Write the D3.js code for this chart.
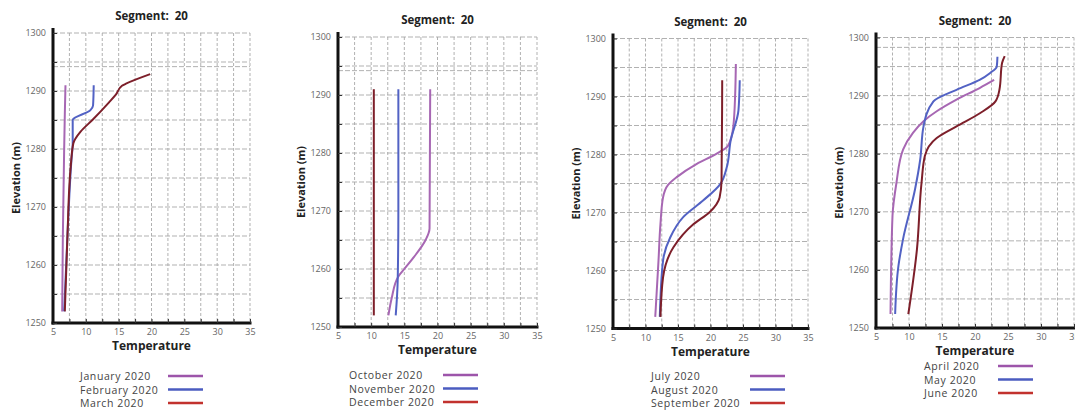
<!DOCTYPE html>
<html>
<head>
<meta charset="utf-8">
<script src="https://cdn.jsdelivr.net/npm/d3@7"></script>
<style>
  body { margin: 0; background: #fff; }
  text { font-family: "Open Sans", "DejaVu Sans", sans-serif; }
</style>
</head>
<body>
<svg width="1075" height="411"></svg>
<script>
// temperature (C) / elevation (m) profiles
var xTicks = [5, 10, 15, 20, 25, 30, 35];
var yTicks = [1250, 1260, 1270, 1280, 1290, 1300];
var title = "Segment:  20";

// panel 1: Jan-Mar
var months1 = ["January 2020", "February 2020", "March 2020"];
var jan = [[6.4,1252],[6.5,1265],[6.7,1280],[6.8,1286],[6.9,1291]];
var feb = [[6.7,1252],[7.2,1265],[7.8,1278],[8.0,1281],[8.0,1285],[10.7,1286.7],[11.1,1287.5],[11.2,1291]];
var mar = [[6.8,1252],[7.2,1265],[7.7,1277],[8.1,1281],[9.2,1283],[11,1285],[13.5,1288],[14.6,1289.4],[15.5,1290.9],[16.2,1291.3],[19.8,1292.9]];

// panel 2: Oct-Dec
var months2 = ["October 2020", "November 2020", "December 2020"];
var oct = [[12.6,1252],[13.1,1255],[14.1,1258.7],[15,1260],[16.4,1262],[18.2,1265],[18.8,1267],[18.9,1291]];
var nov = [[13.7,1252],[14.0,1258],[14.1,1270],[14.1,1291]];
var dec = [[10.4,1252],[10.4,1291]];

// panel 3: Jul-Sep
var months3 = ["July 2020", "August 2020", "September 2020"];
var jul = [[11.5,1252],[12.0,1261.7],[12.3,1268],[12.7,1272.6],[13.5,1274.8],[14.8,1276.1],[17.9,1278.4],[20.9,1280.1],[22.7,1281.5],[23.5,1284.7],[23.8,1290.5],[23.9,1295.6]];
var aug = [[12.2,1252],[12.7,1261.7],[13.8,1265.7],[15.8,1269.2],[18.9,1272.1],[21.5,1274.9],[22.5,1277.8],[23.1,1282.4],[24.3,1287.6],[24.5,1292.8]];
var sep = [[12.3,1252],[12.7,1258.8],[14.3,1264],[17.4,1268],[19.9,1270.1],[21.4,1272.6],[21.7,1275.5],[21.8,1292.8]];

// panel 4: Apr-Jun
var months4 = ["April 2020", "May 2020", "June 2020"];
var apr = [[7.2,1252.4],[7.5,1269.3],[8.1,1275],[9.1,1280.7],[10.6,1283.6],[12.2,1285.6],[14.2,1287.3],[17.2,1289.3],[20.7,1291.3],[22.9,1292.7]];
var may = [[7.9,1252.4],[8.4,1260.7],[9.1,1265.3],[10.9,1273.8],[11.7,1279],[12.2,1284.7],[13.7,1289],[17.2,1291],[20.7,1292.7],[22.3,1293.9],[23.3,1295],[23.4,1296.7]];
var jun = [[9.9,1252.4],[11.2,1263.5],[11.9,1275],[12.4,1279.6],[14.2,1282.7],[17.2,1284.7],[20.8,1287],[23.1,1289],[23.7,1291],[24.1,1295.6],[24.5,1296.8]];

var lineColors = ["#a767b3", "#5262c4", "#7d1f2a"];
var keyColors = ["#9d55aa", "#4b5cc0", "#c2322e"];

// layout per panel (pixels)
var panels = [
  {series: [jan, feb, mar], names: months1, extra: 1294.2, x0: 53, x1: 250, y0: 33, y1: 323, lx: 80, ll: 168, ly: 376},
  {series: [oct, nov, dec], names: months2, extra: 1294.2, x0: 338, x1: 537, y0: 37, y1: 327, lx: 349, ll: 443, ly: 375},
  {series: [jul, aug, sep], names: months3, extra: null, x0: 613, x1: 808, y0: 38.5, y1: 328.5, lx: 651, ll: 750, ly: 376},
  {series: [apr, may, jun], names: months4, extra: 1298.3, x0: 876, x1: 1074, y0: 37.5, y1: 328, lx: 924, ll: 998, ly: 366}
];

var svg = d3.select("svg");

panels.forEach(function(p) {
  var x = d3.scaleLinear().domain([5, 35]).range([p.x0, p.x1]);
  var y = d3.scaleLinear().domain([1250, 1300]).range([p.y1, p.y0]);
  var g = svg.append("g");

  // grid
  var gx = d3.range(5, 35.01, 2.5), gy = d3.range(1250, 1300.01, 5);
  if (p.extra) gy.push(p.extra);
  g.selectAll(".vg").data(gx).enter().append("line")
    .attr("x1", d => x(d)).attr("x2", d => x(d))
    .attr("y1", y(1300)).attr("y2", y(1250))
    .attr("stroke", "#a8a8a8").attr("stroke-width", 0.9).attr("stroke-dasharray", "3,2");
  g.selectAll(".hg").data(gy).enter().append("line")
    .attr("x1", x(5)).attr("x2", x(35))
    .attr("y1", d => y(d)).attr("y2", d => y(d))
    .attr("stroke", "#a8a8a8").attr("stroke-width", 0.9).attr("stroke-dasharray", "5,2");

  // axes
  var xAxis = g.append("g").attr("transform", "translate(0," + y(1250) + ")")
    .call(d3.axisBottom(x).tickValues(gx).tickSize(-4).tickPadding(6)
      .tickFormat(d => xTicks.indexOf(d) >= 0 ? d : ""));
  var yAxis = g.append("g").attr("transform", "translate(" + x(5) + ",0)")
    .call(d3.axisLeft(y).tickValues(d3.range(1250, 1300.01, 5)).tickSize(-4).tickPadding(7)
      .tickFormat(d => yTicks.indexOf(d) >= 0 ? d : ""));
  [xAxis, yAxis].forEach(function(a) {
    a.select(".domain").attr("stroke", "#111").attr("stroke-width", 3);
    a.selectAll(".tick line").attr("stroke", "#333");
    a.selectAll(".tick text").attr("fill", "#666").style("font-size", "9px");
  });
  yAxis.select(".domain").attr("d", "M0," + (y(1300) - 5) + "V" + (y(1250) + 1.5));
  xAxis.select(".domain").attr("d", "M" + (x(5) - 1.5) + ",0H" + (x(35) + 1.5));

  // profiles
  var line = d3.line().x(d => x(d[0])).y(d => y(d[1])).curve(d3.curveMonotoneY);
  p.series.forEach(function(s, i) {
    g.append("path").datum(s).attr("d", line)
      .attr("fill", "none").attr("stroke", lineColors[i]).attr("stroke-width", 2);
  });

  // titles
  var cx = (x(5) + x(35)) / 2;
  g.append("text").attr("x", cx).attr("y", y(1300) - 13).attr("text-anchor", "middle")
    .style("white-space", "pre").style("font-size", "11.5px").style("font-weight", "bold")
    .attr("fill", "#222").text(title);
  g.append("text").attr("x", cx).attr("y", y(1250) + 27).attr("text-anchor", "middle")
    .style("font-size", "12px").style("font-weight", "bold").attr("fill", "#222").text("Temperature");
  g.append("text").attr("transform", "translate(" + (x(5) - 33) + "," + ((y(1250) + y(1300)) / 2) + ")rotate(-90)")
    .attr("text-anchor", "middle").style("font-size", "11px").style("font-weight", "bold")
    .attr("fill", "#222").text("Elevation (m)");

  // legend
  p.names.forEach(function(n, i) {
    var ly = p.ly + i * 13.5;
    g.append("text").attr("x", p.lx).attr("y", ly + 4).style("font-size", "10.5px")
      .style("letter-spacing", "0.6px").attr("fill", "#444").text(n);
    g.append("line").attr("x1", p.ll).attr("x2", p.ll + 35).attr("y1", ly).attr("y2", ly)
      .attr("stroke", keyColors[i]).attr("stroke-width", 2.5);
  });
});
</script>
</body>
</html>
